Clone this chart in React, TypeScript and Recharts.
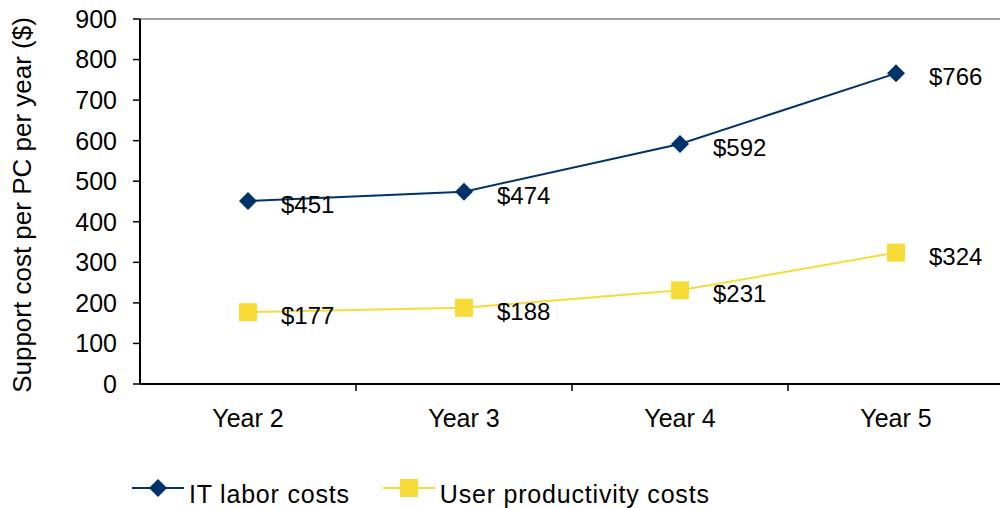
import {
  LabelList,
  Legend,
  Line,
  LineChart,
  ReferenceLine,
  XAxis,
  YAxis,
} from "recharts"

const years = ["Year 2", "Year 3", "Year 4", "Year 5"]
const itLabor = [451, 474, 592, 766]
const userProductivity = [177, 188, 231, 324]
const yTicks = [0, 100, 200, 300, 400, 500, 600, 700, 800, 900]
// category centres sit at .5, boundaries at whole numbers
const xTicks = [0, 0.5, 1, 1.5, 2, 2.5, 3, 3.5, 4]

const NAVY = "#00336A"
const YELLOW = "#F7DC38"
const FONT = "'Liberation Sans', Arial, sans-serif"

const data = years.map((year, i) => ({
  x: i + 0.5,
  year,
  it: itLabor[i],
  user: userProductivity[i],
}))

const series = [
  { key: "it", name: "IT labor costs", color: NAVY, shape: "diamond" },
  { key: "user", name: "User productivity costs", color: YELLOW, shape: "square" },
]

function Marker({ cx, cy, shape, color }: any) {
  if (cx == null || cy == null) return null
  if (shape === "diamond") {
    return (
      <path
        d={`M${cx} ${cy - 9}L${cx + 9} ${cy}L${cx} ${cy + 9}L${cx - 9} ${cy}Z`}
        fill={color}
      />
    )
  }
  return <rect x={cx - 9} y={cy - 9} width={18} height={18} fill={color} />
}

function XTick({ x, y, payload }: any) {
  const v = payload.value
  if (Number.isInteger(v)) {
    if (v === 0) return null
    return <line x1={x} x2={x} y1={y - 7} y2={y} stroke="#000" strokeWidth={1.5} />
  }
  const label = years[Math.floor(v)]
  return (
    <text x={x} y={y + 36} textAnchor="middle" fontSize={25} fill="#000">
      {label}
    </text>
  )
}

function ValueLabel({ x, y, value }: any) {
  return (
    <text x={x + 33} y={y + 12} fontSize={24} fill="#000">
      ${value}
    </text>
  )
}

function LegendContent() {
  return (
    <div style={{ display: "flex", alignItems: "flex-start" }}>
      {series.map((s) => (
        <div
          key={s.key}
          style={{ display: "flex", alignItems: "flex-start", marginRight: 33 }}
        >
          <svg width={52} height={20} style={{ display: "block", marginTop: -4 }}>
            <line x1={0} x2={52} y1={10} y2={10} stroke={s.color} strokeWidth={2} />
            <Marker cx={26} cy={10} shape={s.shape} color={s.color} />
          </svg>
          <span
            style={{
              marginLeft: 5,
              fontSize: 25,
              lineHeight: "25px",
              letterSpacing: 0.8,
              color: "#000",
            }}
          >
            {s.name}
          </span>
        </div>
      ))}
    </div>
  )
}

export default function App() {
  return (
    <div
      style={{
        width: 1000,
        height: 508,
        overflow: "hidden",
        background: "#fff",
        fontFamily: FONT,
      }}
    >
      <style>{"body{margin:0}"}</style>
      <LineChart
        width={1005}
        height={508}
        data={data}
        margin={{ top: 19, right: 1, left: 0, bottom: 0 }}
      >
        <XAxis
          dataKey="x"
          type="number"
          domain={[0, 4]}
          ticks={xTicks}
          interval={0}
          height={124}
          tickSize={7}
          tickMargin={0}
          tickLine={false}
          axisLine={{ stroke: "#000", strokeWidth: 2 }}
          tick={<XTick />}
        />
        <YAxis
          domain={[0, 900]}
          ticks={yTicks}
          interval={0}
          width={140}
          tickSize={7}
          tickMargin={16}
          axisLine={{ stroke: "#000", strokeWidth: 2 }}
          tickLine={{ stroke: "#000", strokeWidth: 1.5 }}
          tick={{ fill: "#000", fontSize: 25 }}
          label={{
            content: () => (
              <text
                transform="translate(31,205) rotate(-90)"
                textAnchor="middle"
                fontSize={26}
                fill="#000"
              >
                Support cost per PC per year ($)
              </text>
            ),
          }}
        />
        <ReferenceLine y={900} stroke="#A0A0A0" strokeWidth={2} />
        {series.map((s) => (
          <Line
            key={s.key}
            dataKey={s.key}
            name={s.name}
            type="linear"
            stroke={s.color}
            strokeWidth={2}
            dot={(p: any) => (
              <Marker key={p.index} cx={p.cx} cy={p.cy} shape={s.shape} color={s.color} />
            )}
            activeDot={false}
            isAnimationActive={false}
          >
            <LabelList dataKey={s.key} content={<ValueLabel />} />
          </Line>
        ))}
        <Legend
          layout="horizontal"
          verticalAlign="middle"
          align="center"
          wrapperStyle={{ top: 482, left: 132, width: 800, height: 30 }}
          content={<LegendContent />}
        />
      </LineChart>
    </div>
  )
}
